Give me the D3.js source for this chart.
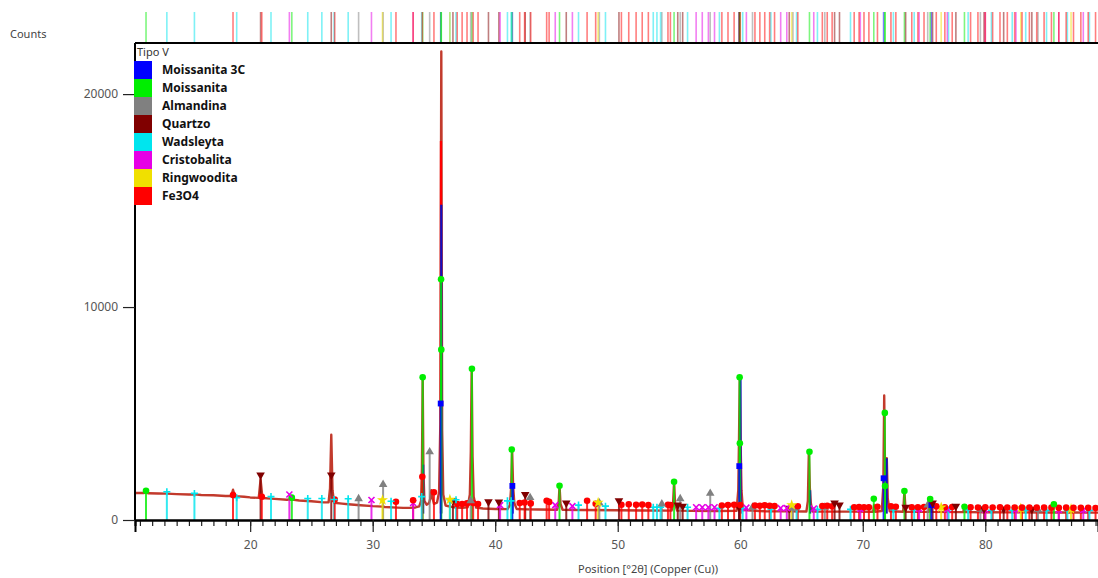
<!DOCTYPE html>
<html lang="en">
<head>
<meta charset="UTF-8">
<title>Tipo V</title>
<script src="https://d3js.org/d3.v7.min.js"></script>
<style>
    body { margin: 0; background: #fff; }
    text { font-family: 'Noto Sans', 'Open Sans', sans-serif; }
</style>
</head>
<body>
<script>
    // measured scan, [2theta, counts]
    const observed = [
        [10.6,1270],[11.3,1265],[11.5,1290],[11.7,1255],[12.5,1245],[13.2,1240],[14,1215],[15,1195],
        [15.5,1205],[16,1175],[17,1160],[18,1130],[18.45,1125],[18.6,1420],[18.75,1120],[19.5,1090],
        [20,1060],[20.7,1040],[20.85,1900],[21.0,1035],[22,990],[23,950],[23.3,970],[24,915],[25,880],
        [26,830],[26.4,830],[26.52,1500],[26.57,2800],[26.62,4000],[26.67,2700],[26.72,1400],[26.85,810],
        [27.5,770],[28,740],[29,690],[30,650],[30.8,630],[31,610],[32,580],[32.5,570],[33,570],[33.5,590],
        [33.8,640],[33.95,900],[34.02,2400],[34.08,6700],[34.14,2300],[34.22,900],[34.4,720],[34.6,800],
        [34.7,1000],[34.78,1400],[34.85,1100],[35.0,760],[35.25,820],[35.42,1300],[35.52,4500],[35.6,22000],
        [35.67,4200],[35.76,1200],[35.95,680],[36.4,620],[36.8,590],[37.3,570],[37.75,600],[37.93,1200],
        [38.01,3200],[38.08,7100],[38.15,3000],[38.24,1100],[38.45,580],[39,540],[40,520],[41,510],
        [41.2,700],[41.3,1500],[41.38,3300],[41.46,1600],[41.56,800],[41.75,520],[42.5,500],[43.5,490],
        [45.05,480],[45.18,800],[45.25,1600],[45.33,750],[45.5,480],[47,470],[50,455],[52,445],[54.4,440],
        [54.52,800],[54.6,1800],[54.68,760],[54.85,440],[56,430],[58,420],[59.7,430],[59.84,1400],
        [59.9,3800],[59.96,6700],[60.03,3600],[60.1,1400],[60.22,470],[62,410],[64,405],[65.4,400],
        [65.52,900],[65.6,3200],[65.68,1500],[65.76,800],[65.9,400],[67,395],[69,392],[70.85,390],
        [70.92,700],[71.0,390],[71.55,420],[71.68,1600],[71.75,5850],[71.82,2000],[71.9,1700],[71.96,2900],
        [72.04,1000],[72.2,410],[73.3,390],[73.4,1350],[73.5,385],[75.4,380],[75.5,1000],[75.6,380],
        [78.2,370],[78.3,620],[78.4,370],[80,365],[82,360],[85,355],[87,350],[89.5,345]
    ];

    // calculated peak tops drawn over the scan
    const calcFe3O4 = [[35.57,17800]];
    const calcMoissanita3C = [[35.6,14800],[60.02,6700],[41.42,1700],[71.95,2900],[65.7,1400],[34.12,2600]];

    // reference pattern sticks per phase, [2theta, marker counts]
    const moissanita3C = [[35.55,5470],[41.4,1600],[59.92,2530],[71.7,1960],[75.6,700]];
    const moissanita = [[11.5,1375],[23.4,1050],[34.08,6700],[35.58,11300],[35.6,8000],[38.1,7100],
        [41.35,3310],[45.25,1610],[54.6,1800],[59.95,6700],[59.97,3600],[65.65,3200],[70.9,1000],
        [71.8,5030],[71.82,1600],[73.4,1360],[75.5,990],[78.3,620],[85.6,740]];
    const almandina = [[28.85,1000],[30.85,1670],[34.65,3200],[38.0,900],[42.85,1050],[48.5,800],
        [53.6,750],[55.1,1000],[57.55,1250],[61.0,600],[64.3,550],[66.9,600],[75.3,700],[79.6,500],[84.3,480]];
    const quartzo = [[20.85,2110],[26.62,2110],[36.55,900],[39.45,860],[40.3,850],[42.45,1200],[45.8,800],
        [50.1,900],[54.9,700],[55.3,650],[59.9,600],[64.0,550],[67.7,800],[68.1,700],[73.5,600],[75.7,800],
        [77.6,650],[79.9,520],[81.5,520],[83.8,500]];
    const wadsleyta = [[13.2,1330],[15.45,1250],[18.9,1050],[21.7,1100],[24.7,1010],[25.85,1010],[26.85,960],
        [28.0,1000],[31.5,880],[34.0,1100],[36.3,950],[36.8,950],[41.0,900],[41.3,900],[46.8,700],[49.0,650],
        [52.9,600],[53.2,600],[53.5,600],[55.7,600],[58.3,550],[60.2,550],[62.5,520],[64.6,520],[66.3,500],
        [69.0,500],[72.5,480],[74.2,480],[77.0,480],[78.6,480],[80.5,460],[82.2,460],[83.3,460],[85.0,450],
        [86.7,450],[88.5,450]];
    const cristobalita = [[23.2,1200],[29.9,940],[33.3,800],[40.4,700],[44.9,700],[46.3,650],[56.4,600],
        [56.9,600],[57.4,600],[57.9,600],[60.5,580],[63.3,560],[63.8,560],[66.0,540],[69.8,520],[74.6,520],
        [76.9,500],[80.0,480],[82.5,480],[86.0,470],[88.0,470]];
    const ringwoodita = [[30.8,940],[36.3,960],[48.4,820],[64.2,700],[76.4,600],[82.9,550],[87.0,520]];
    const fe3o4 = [[18.6,1170],[20.95,1090],[26.9,960],[31.9,860],[33.3,930],[34.05,2030],[35.0,1300],
        [36.9,750],[37.3,750],[37.7,780],[38.2,800],[38.6,750],[42.0,800],[42.4,820],[42.9,780],[44.2,900],
        [44.4,850],[47.5,900],[48.2,760],[50.3,720],[50.9,740],[51.5,720],[52.0,730],[52.5,700],[54.1,720],
        [54.3,700],[58.5,680],[59.0,700],[59.5,720],[60.0,700],[61.2,680],[61.6,670],[62.0,690],[62.4,670],
        [62.8,660],[64.7,640],[66.7,660],[67.1,670],[67.5,640],[69.3,600],[69.7,610],[70.1,600],[70.5,600],
        [71.2,620],[72.3,640],[72.7,620],[74.0,600],[74.5,600],[75.0,610],[76.0,640],[76.7,600],[77.3,610],
        [78.8,600],[79.4,590],[80.0,600],[80.6,590],[81.2,600],[81.8,590],[82.4,590],[83.0,580],[83.6,590],
        [84.2,580],[84.8,580],[85.4,580],[86.0,570],[86.6,580],[87.2,570],[87.8,570],[88.4,570],[89.0,560]];

    const xTicks = [20, 30, 40, 50, 60, 70, 80];
    const yTicks = [0, 10000, 20000];

    const phases = [
        {name: "Moissanita 3C", color: "#0000ff", sym: "square",  data: moissanita3C},
        {name: "Moissanita",    color: "#00ee00", sym: "circle",  data: moissanita},
        {name: "Almandina",     color: "#808080", sym: "tri",     data: almandina},
        {name: "Quartzo",       color: "#800000", sym: "invtri",  data: quartzo},
        {name: "Wadsleyta",     color: "#00e5ee", sym: "plus",    data: wadsleyta},
        {name: "Cristobalita",  color: "#e600e6", sym: "x",       data: cristobalita},
        {name: "Ringwoodita",   color: "#f0e000", sym: "star",    data: ringwoodita},
        {name: "Fe3O4",         color: "#ff0000", sym: "circle",  data: fe3o4}
    ];

    const W = 1098, H = 578;
    const plotLeft = 135, plotBottom = 520, plotTop = 43;

    const x = d3.scaleLinear().domain([10.6, 89.2]).range([plotLeft, W]);
    const y = d3.scaleLinear().domain([0, 22400]).range([plotBottom, plotTop]);

    const svg = d3.select("body").append("svg").attr("width", W).attr("height", H);

    svg.append("clipPath").attr("id", "plot")
        .append("rect").attr("x", plotLeft).attr("y", 0).attr("width", W - plotLeft).attr("height", plotBottom);

    // top reference bar
    const bar = svg.append("g").attr("clip-path", "url(#plot)");
    phases.forEach(function(p) {
        bar.selectAll(null).data(p.data).join("line")
            .attr("x1", d => x(d[0])).attr("x2", d => x(d[0]))
            .attr("y1", 12).attr("y2", plotTop)
            .attr("stroke", p.color).attr("stroke-width", 1.6).attr("opacity", 0.5);
    });

    const plot = svg.append("g").attr("clip-path", "url(#plot)");

    // scan
    plot.append("path").datum(observed)
        .attr("fill", "none").attr("stroke", "#c23a2c").attr("stroke-width", 2.4)
        .attr("stroke-linejoin", "round")
        .attr("d", d3.line().x(d => x(d[0])).y(d => y(d[1])));

    // calculated tops
    const calc = [[calcFe3O4, "#ff0000"], [calcMoissanita3C, "#1010c0"]];
    calc.forEach(function(c) {
        plot.selectAll(null).data(c[0]).join("line")
            .attr("x1", d => x(d[0])).attr("x2", d => x(d[0]))
            .attr("y1", y(300)).attr("y2", d => y(d[1]))
            .attr("stroke", c[1]).attr("stroke-width", 2.2);
    });

    // sticks, tallest first
    const sticks = [];
    phases.forEach(p => p.data.forEach(d => sticks.push({p: p, t: d[0], h: d[1]})));
    sticks.sort((a, b) => b.h - a.h);

    plot.selectAll(null).data(sticks).join("line")
        .attr("x1", d => x(d.t)).attr("x2", d => x(d.t))
        .attr("y1", plotBottom).attr("y2", d => y(d.h))
        .attr("stroke", d => d.p.color).attr("stroke-width", 2).attr("opacity", 0.8);

    function symPath(s) {
        if (s == "circle") return d3.symbol(d3.symbolCircle, 34)();
        if (s == "square") return d3.symbol(d3.symbolSquare, 34)();
        if (s == "tri") return d3.symbol(d3.symbolTriangle, 32)();
        if (s == "invtri") return d3.symbol(d3.symbolTriangle, 32)();
        if (s == "star") return d3.symbol(d3.symbolStar, 38)();
        if (s == "plus") return "M-3.5,0L3.5,0M0,-3.5L0,3.5";
        return "M-3,-3L3,3M-3,3L3,-3";
    }

    plot.selectAll(null).data(sticks.slice().reverse()).join("path")
        .attr("d", d => symPath(d.p.sym))
        .attr("transform", d => "translate(" + x(d.t) + "," + y(d.h) + ")" + (d.p.sym == "invtri" ? " rotate(180)" : ""))
        .attr("fill", d => (d.p.sym == "plus" || d.p.sym == "x") ? "none" : d.p.color)
        .attr("stroke", d => (d.p.sym == "plus" || d.p.sym == "x") ? d.p.color : "none")
        .attr("stroke-width", 1.6);

    // frame
    svg.append("line").attr("x1", plotLeft).attr("x2", W).attr("y1", plotTop).attr("y2", plotTop)
        .attr("stroke", "#000").attr("stroke-width", 2);
    svg.append("line").attr("x1", plotLeft).attr("x2", plotLeft).attr("y1", plotTop).attr("y2", plotBottom)
        .attr("stroke", "#000").attr("stroke-width", 2);

    // x axis
    const minor = svg.append("g").attr("transform", "translate(0," + plotBottom + ")")
        .call(d3.axisBottom(x).tickValues(d3.range(11, 90)).tickSize(6).tickFormat(""));
    const major = svg.append("g").attr("transform", "translate(0," + plotBottom + ")")
        .call(d3.axisBottom(x).tickValues(xTicks).tickSize(12).tickPadding(8).tickFormat(d3.format("d")));
    [minor, major].forEach(function(g) {
        g.select(".domain").attr("stroke", "#000").attr("stroke-width", 2);
        g.selectAll(".tick line").attr("stroke", "#222").attr("stroke-width", 1.2);
        g.selectAll("text").attr("fill", "#555").style("font-size", "12px");
    });

    // y axis
    const ya = svg.append("g").attr("transform", "translate(" + plotLeft + ",0)")
        .call(d3.axisLeft(y).tickValues(yTicks).tickSize(12).tickPadding(5).tickFormat(d3.format("d")));
    ya.select(".domain").remove();
    ya.selectAll(".tick line").attr("stroke", "#222").attr("stroke-width", 1.2);
    ya.selectAll("text").attr("fill", "#555").style("font-size", "12px");

    svg.append("text").attr("x", 10).attr("y", 38).text("Counts")
        .attr("fill", "#444").style("font-size", "11px");
    svg.append("text").attr("x", 648).attr("y", 573).attr("text-anchor", "middle")
        .text("Position [°2θ] (Copper (Cu))").attr("fill", "#444").style("font-size", "11px");

    // legend
    const lg = svg.append("g");
    lg.append("text").attr("x", 137).attr("y", 56).text("Tipo V")
        .attr("fill", "#333").style("font-size", "11px");
    const rows = lg.selectAll("g.row").data(phases).join("g")
        .attr("transform", (d, i) => "translate(134," + (61 + i * 18) + ")");
    rows.append("rect").attr("width", 18).attr("height", 18).attr("fill", d => d.color);
    rows.append("text").attr("x", 28).attr("y", 13).text(d => d.name)
        .attr("fill", "#111").style("font-size", "12px").style("font-weight", "bold");
</script>
</body>
</html>
